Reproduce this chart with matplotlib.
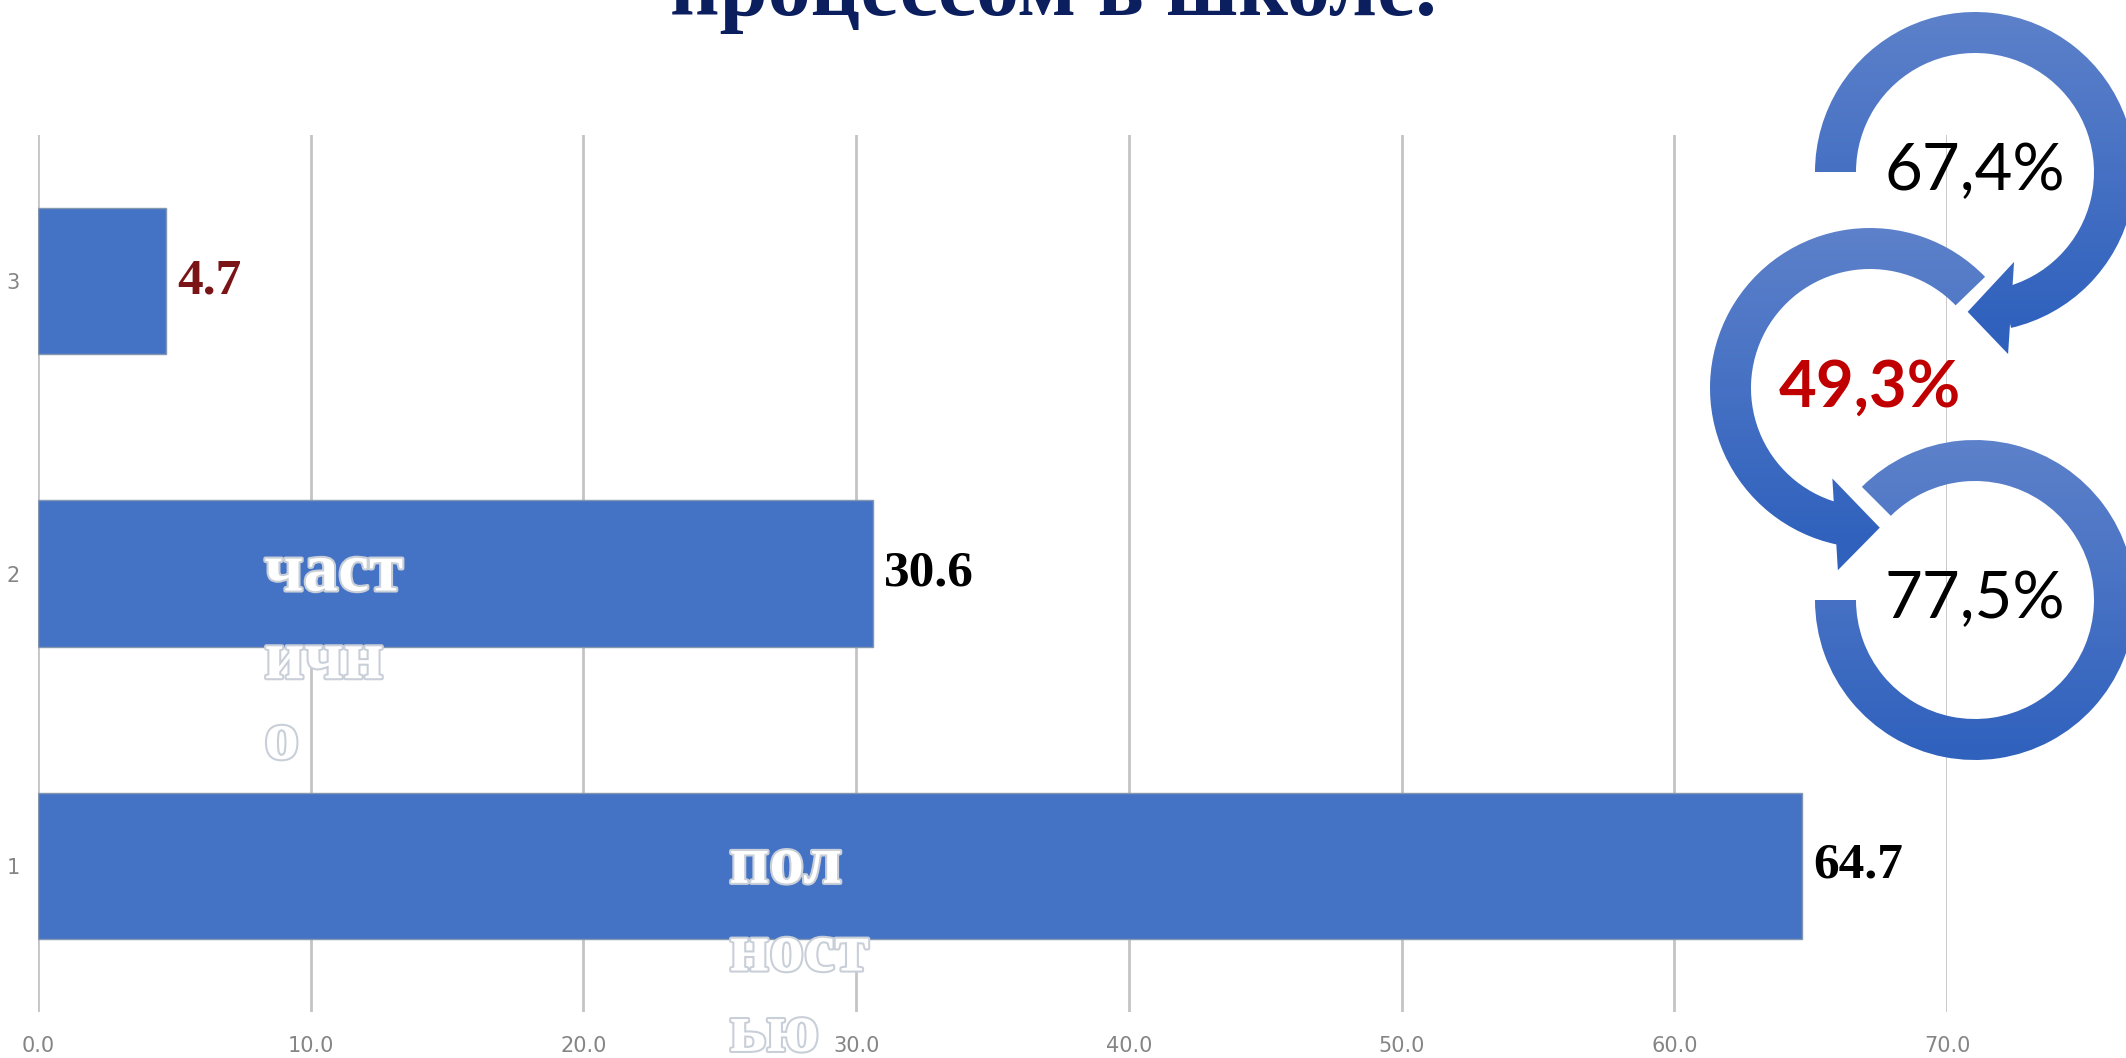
import numpy as np
import matplotlib
matplotlib.use('Agg')
import matplotlib.pyplot as plt
from matplotlib.patches import Wedge, Polygon
from matplotlib.colors import LinearSegmentedColormap
import matplotlib.patheffects as pe
from matplotlib import font_manager as fm

# ---------------- data ----------------
categories = [1, 2, 3]
values = [64.7, 30.6, 4.7]
value_labels = ['64.7', '30.6', '4.7']
value_colors = ['#000000', '#000000', '#7B1416']
inner_labels = [['пол', 'ност', 'ью'], ['част', 'ичн', 'о'], []]
x_ticks = [0, 10, 20, 30, 40, 50, 60, 70]
x_tick_labels = ['0.0', '10.0', '20.0', '30.0', '40.0', '50.0', '60.0', '70.0']
y_tick_labels = ['1', '2', '3']
title = 'процессом в школе.'
ring_labels = ['67,4%', '49,3%', '77,5%']
ring_label_colors = ['#000000', '#C00000', '#000000']
ring_label_weights = ['normal', 'bold', 'normal']

# ---------------- fonts ----------------
names = {f.name for f in fm.fontManager.ttflist}
tick_family = 'Liberation Sans Narrow' if 'Liberation Sans Narrow' in names else 'DejaVu Sans'
serif = 'Liberation Serif'
ring_font = 'Lato' if 'Lato' in names else 'Open Sans'

W, H = 2126, 1058
fig = plt.figure(figsize=(W / 100, H / 100), dpi=100)
fig.patch.set_facecolor('white')

# ---------------- bar chart ----------------
ax = fig.add_axes([38 / W, 46 / H, 1909 / W, 877 / H])
ax.set_xlim(0, 70)
ax.set_ylim(0.5, 3.5)
for s in ax.spines.values():
    s.set_visible(False)
ax.set_xticks(x_ticks)
ax.set_xticklabels(x_tick_labels)
ax.set_yticks(categories)
ax.set_yticklabels(y_tick_labels)
ax.tick_params(axis='x', length=0, pad=17, labelsize=15, labelcolor='#858585')
ax.tick_params(axis='y', length=0, pad=13, labelsize=15, labelcolor='#858585')
for lab in ax.get_xticklabels() + ax.get_yticklabels():
    lab.set_family(tick_family)
ax.grid(axis='x', color='#C4C4C4', linewidth=2.0)
ax.set_axisbelow(True)

ax.barh(categories, values, height=0.5, color='#4472C4',
        edgecolor='#8497B0', linewidth=1.0, zorder=2)

for c, v, lab, col in zip(categories, values, value_labels, value_colors):
    ax.annotate(lab, (v, c), xytext=(8, 0), textcoords='offset points',
                ha='left', va='center', fontsize=37, fontweight='bold',
                family=serif, color=col, zorder=4)

line_steps = [0.0, 0.30, 0.575]
label_box_half = 7.0
for c, v, lines in zip(categories, values, inner_labels):
    for line, step in zip(lines, line_steps):
        t = ax.text(v / 2 - label_box_half, c - step, line,
                    ha='left', va='center', fontsize=50, fontweight='bold',
                    family=serif, color='white', zorder=5, clip_on=False)
        t.set_path_effects([pe.withStroke(linewidth=3, foreground='#C9CFD8')])

# ---------------- title ----------------
fig.text(1053 / W, 1 - 15 / H, title, ha='center', va='baseline',
         fontsize=62, fontweight='bold', family=serif, color='#0B1F5E')

# ---------------- circular arrows ----------------
ax2 = fig.add_axes([0, 0, 1, 1], zorder=10)
ax2.set_xlim(0, W)
ax2.set_ylim(0, H)
ax2.axis('off')

R_OUT, R_W = 160, 41
c_top, c_bot = '#5D81CA', '#2F61BD'
cmap = LinearSegmentedColormap.from_list('ring', [c_bot, c_top])


def fill_gradient(patch, cx, cy, z):
    patch.set_facecolor('none')
    patch.set_edgecolor('none')
    ax2.add_patch(patch)
    pad = 70
    ys = np.linspace(cy - R_OUT - pad, cy + R_OUT + pad, 400)
    g = np.clip((ys - (cy - R_OUT)) / (2 * R_OUT), 0, 1).reshape(-1, 1)
    im = ax2.imshow(g, cmap=cmap, vmin=0, vmax=1, origin='lower', aspect='auto',
                    extent=(cx - R_OUT - pad, cx + R_OUT + pad,
                            cy - R_OUT - pad, cy + R_OUT + pad),
                    zorder=z, interpolation='bilinear')
    im.set_clip_path(patch)


def head(cx, cy, a_in, a_out, a_tip, r_in=98, r_out=185, r_tip=140):
    pts = []
    for a, r in ((a_in, r_in), (a_out, r_out), (a_tip, r_tip)):
        t = np.radians(a)
        pts.append((cx + r * np.cos(t), cy + r * np.sin(t)))
    return pts


# (centre x, centre y (from bottom), wedge theta1, theta2, arrow head or None)
rings = [
    (1975, H - 172, -77, 180, (-66.5, -79.7, -93)),
    (1870, H - 388, 44, 258, (247.4, 260.0, 274)),
    (1975, H - 600, -180, 135, None),
]

# draw bottom ring first, then middle, then top, so that each arrow head
# (with its white halo) sits over the start of the next ring
z = 1
for cx, cy, t1, t2, hd in reversed(rings):
    if hd is not None:
        pts = head(cx, cy, *hd)
        ax2.add_patch(Polygon(pts, closed=True, facecolor='white',
                              edgecolor='white', linewidth=9, zorder=z))
        z += 1
    fill_gradient(Wedge((cx, cy), R_OUT, t1, t2, width=R_W), cx, cy, z)
    if hd is not None:
        fill_gradient(Polygon(pts, closed=True), cx, cy, z)
    z += 1

for (cx, cy, *_), lab, col, wt in zip(rings, ring_labels, ring_label_colors, ring_label_weights):
    ax2.text(cx, cy, lab, ha='center', va='center', fontsize=47,
             color=col, fontweight=wt, family=ring_font, zorder=20)

ax2.set_xlim(0, W)
ax2.set_ylim(0, H)

fig.savefig('out.png', dpi=100, facecolor='white')
